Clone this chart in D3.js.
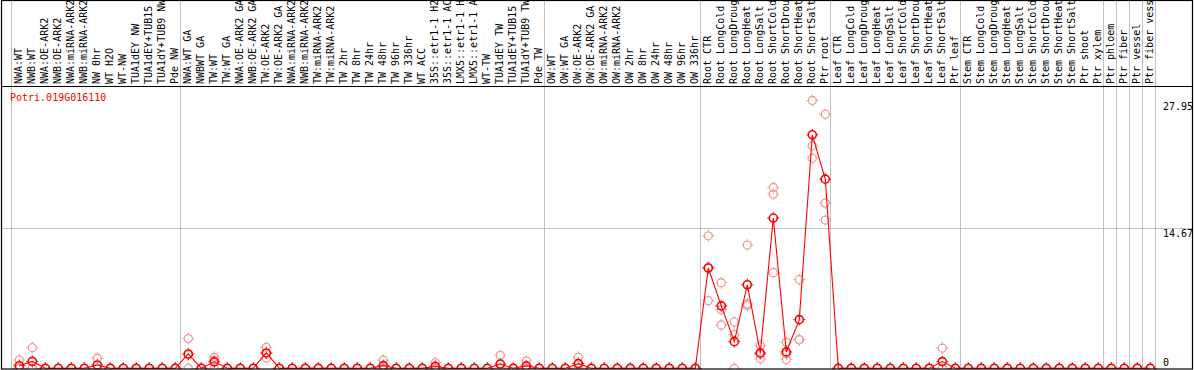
<!DOCTYPE html>
<html>
<head>
<meta charset="utf-8">
<script src="https://cdn.jsdelivr.net/npm/d3@7"></script>
<style>
html,body{margin:0;padding:0;background:#fff;}
svg{display:block;}
text{font-family:"DejaVu Sans Mono",monospace;font-size:10px;}
</style>
</head>
<body>
<svg id="chart" width="1194" height="370"></svg>
<script>
const categories = [
"NWA:WT","NWB:WT","NWA:OE-ARK2","NWB:OE-ARK2","NWA:miRNA-ARK2","NWB:miRNA-ARK2","NW 0hr","WT H2O","WT-NW","TUA1dEY NW","TUA1dEY+TUB15 NW","TUA1dY+TUB9 NW","Pde NW",
"NWA:WT GA","NWBWT GA","TW:WT","TW:WT GA","NWA:OE-ARK2 GA","NWB:OE-ARK2 GA","TW:OE-ARK2","TW:OE-ARK2 GA","NWA:miRNA-ARK2","NWB:miRNA-ARK2","TW:miRNA-ARK2","TW:miRNA-ARK2",
"TW 2hr","TW 8hr","TW 24hr","TW 48hr","TW 96hr","TW 336hr","WT ACC","35S::etr1-1 H2O","35S::etr1-1 ACC","LMX5::etr1-1 H2O","LMX5::etr1-1 ACC","WT-TW","TUA1dEY TW","TUA1dEY+TUB15 TW","TUA1dY+TUB9 TW","Pde TW",
"OW:WT","OW:WT GA","OW:OE-ARK2","OW:OE-ARK2 GA","OW:miRNA-ARK2","OW:miRNA-ARK2","OW 2hr","OW 8hr","OW 24hr","OW 48hr","OW 96hr","OW 336hr",
"Root CTR","Root LongCold","Root LongDrought","Root LongHeat","Root LongSalt","Root ShortCold","Root ShortDrought","Root ShortHeat","Root ShortSalt","Ptr root",
"Leaf CTR","Leaf LongCold","Leaf LongDrought","Leaf LongHeat","Leaf LongSalt","Leaf ShortCold","Leaf ShortDrought","Leaf ShortHeat","Leaf ShortSalt","Ptr leaf",
"Stem CTR","Stem LongCold","Stem LongDrought","Stem LongHeat","Stem LongSalt","Stem ShortCold","Stem ShortDrought","Stem ShortHeat","Stem ShortSalt","Ptr shoot","Ptr xylem",
"Ptr phloem","Ptr fiber","Ptr vessel","Ptr fiber vessel"
];
// indices of categories where a separator line is drawn before
const groupStarts = [0, 13, 41, 53, 63, 73, 84, 85, 86, 87];

const means = [
0.27,0.72,0,0,0,0,0.35,0,0,0,0,0,0,
1.5,0,0.67,0,0,0,1.6,0,0,0,0,0,
0,0,0,0.28,0,0,0,0.2,0,0,0,0,0.45,0,0.25,0,
0,0,0.5,0,0,0,0,0,0,0,0,0,
10.47,6.52,2.78,8.72,1.6,15.68,1.71,5.08,24.37,19.74,
0,0,0,0,0,0,0,0,0.7,0,
0,0,0,0,0,0,0,0,0,0,0,
0,0,0,0
];
const rep1 = [
0.87,2.15,0,0,0,0,1.05,0,0,0,0,0,0,
3.1,0,1.15,0,0,0,2.19,0,0,0,0,0,
0,0,0,0.85,0,0,0,0.6,0,0,0,0,1.35,0,0.75,0,
0,0,1.15,0,0,0,0,0,0,0,0,0,
13.83,8.93,4.84,12.86,2.37,18.87,2.71,9.25,27.95,26.52,
0,0,0,0,0,0,0,0,2.1,0,
0,0,0,0,0,0,0,0,0,0,0,
0,0,0,0
];
const rep2 = [
0,0,0,0,0,0,0,0,0,0,0,0,0,
1.4,0,0.86,0,0,0,1.53,0,0,0,0,0,
0,0,0,0,0,0,0,0,0,0,0,0,0,0,0,0,
0,0,0.35,0,0,0,0,0,0,0,0,0,
10.52,6.12,3.51,6.74,1.45,18.18,1.5,3.0,23.22,17.24,
0,0,0,0,0,0,0,0,0,0,
0,0,0,0,0,0,0,0,0,0,0,
0,0,0,0
];
const rep3 = [
0,0,0,0,0,0,0,0,0,0,0,0,0,
0,0,0,0,0,0,1.08,0,0,0,0,0,
0,0,0,0,0,0,0,0,0,0,0,0,0,0,0,0,
0,0,0,0,0,0,0,0,0,0,0,0,
7.06,4.52,0,6.57,0.98,9.98,0.91,2.99,21.93,15.47,
0,0,0,0,0,0,0,0,0,0,
0,0,0,0,0,0,0,0,0,0,0,
0,0,0,0
];
const title = "Potri.019G016110";
const yTicks = [0, 14.67, 27.95];

const svg = d3.select("#chart");
const bLeft = 1.5, bRight = 1192.5, bTop = 0.5, bBottom = 369, headerY = 86;

const x = d3.scaleBand().domain(d3.range(categories.length)).range([11.3, 11.3 + 13 * categories.length]).padding(0);
const cx = i => x(i) + 8;
const y = d3.scaleLinear().domain([0, 27.95]).range([368.3, 100.5]);

// vertical separators
const seps = groupStarts.map(i => x(i)).concat([x(categories.length - 1) + x.step()]);
svg.append("g").selectAll("line").data(seps).join("line")
  .attr("x1", d => Math.round(d) + 0.5).attr("x2", d => Math.round(d) + 0.5)
  .attr("y1", 0).attr("y2", bBottom)
  .attr("stroke", "#c0c0c0").attr("stroke-width", 1);

// horizontal gridline at middle tick
svg.append("line")
  .attr("x1", bLeft).attr("x2", bRight)
  .attr("y1", Math.round(y(14.67)) + 0.5).attr("y2", Math.round(y(14.67)) + 0.5)
  .attr("stroke", "#c0c0c0");

// header separator
svg.append("line").attr("x1", bLeft).attr("x2", bRight)
  .attr("y1", headerY + 0.5).attr("y2", headerY + 0.5).attr("stroke", "#000");

// category labels
svg.append("g").selectAll("text").data(categories).join("text")
  .attr("transform", (d, i) => `translate(${cx(i) + 3},84) rotate(-90)`)
  .attr("text-anchor", "start")
  .attr("fill", "#000")
  .text(d => d);

// title
svg.append("text").attr("x", 10).attr("y", 101).attr("fill", "#ff0000").text(title);

// y tick labels
svg.append("g").selectAll("text").data(yTicks).join("text")
  .attr("x", 1163)
  .attr("y", d => d === 0 ? y(d) - 2 : y(d) + 9)
  .attr("fill", "#000")
  .text(d => d === 0 ? "0" : d.toFixed(2));

// plot clip
svg.append("clipPath").attr("id", "clip").append("rect")
  .attr("x", bLeft).attr("y", headerY + 1).attr("width", bRight - bLeft).attr("height", bBottom - headerY - 1);
const plot = svg.append("g").attr("clip-path", "url(#clip)");

function marker(g, color, sw) {
  g.append("circle").attr("r", 4).attr("fill", "none").attr("stroke", color).attr("stroke-width", sw);
  g.append("path").attr("d", "M0,-6V-4.5M0,4.5V6M-6,0H-4.5M4.5,0H6")
    .attr("stroke", color).attr("stroke-width", 1).attr("fill", "none");
}

// replicates
const reps = [];
[rep1, rep2, rep3].forEach(arr => arr.forEach((v, i) => reps.push({i, v})));
plot.append("g").selectAll("g").data(reps).join("g")
  .attr("transform", d => `translate(${cx(d.i)},${y(d.v)})`)
  .each(function() { marker(d3.select(this), "#f09a9a", 1.3); });

// mean line
plot.append("path")
  .datum(means)
  .attr("fill", "none").attr("stroke", "#ff0000").attr("stroke-width", 1.1)
  .attr("d", d3.line().x((d, i) => cx(i)).y(d => y(d)));

// mean markers
plot.append("g").selectAll("g").data(means).join("g")
  .attr("transform", (d, i) => `translate(${cx(i)},${y(d)})`)
  .each(function() { marker(d3.select(this), "#ff0000", 1.6); });

// border
svg.append("rect").attr("x", bLeft).attr("y", bTop).attr("width", bRight - bLeft).attr("height", bBottom - bTop)
  .attr("fill", "none").attr("stroke", "#000").attr("stroke-width", 1.2);
</script>
</body>
</html>
